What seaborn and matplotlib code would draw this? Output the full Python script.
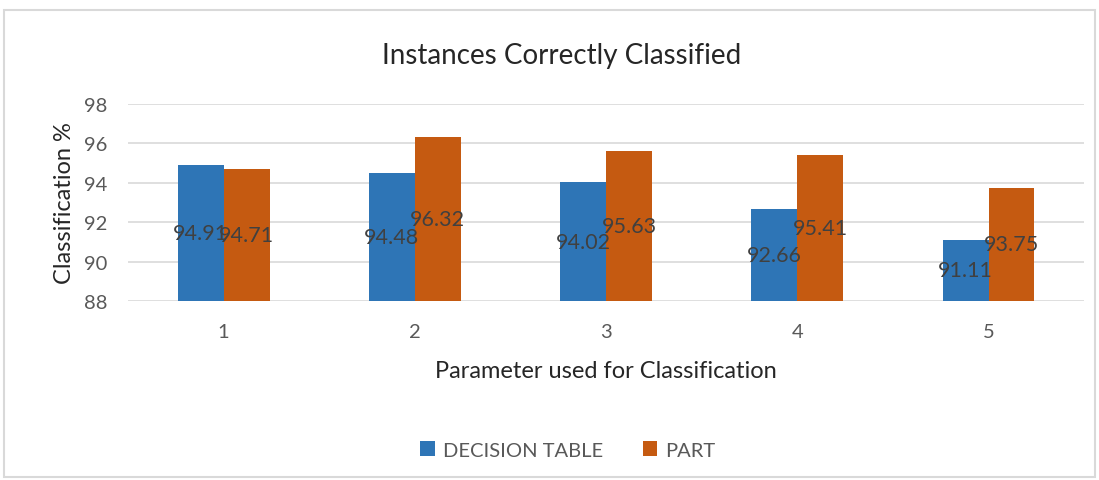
import pandas as pd
import seaborn as sns
import matplotlib.pyplot as plt
from matplotlib.patches import Rectangle

parameters = ["1", "2", "3", "4", "5"]
decision_table = [94.91, 94.48, 94.02, 92.66, 91.11]
part = [94.71, 96.32, 95.63, 95.41, 93.75]
series_names = ["DECISION TABLE", "PART"]
colors = ["#2E75B6", "#C55A11"]

df = pd.DataFrame({
    "Parameter": parameters * 2,
    "Value": decision_table + part,
    "Series": [series_names[0]] * 5 + [series_names[1]] * 5,
})

sns.set_theme(style="white")
plt.rcParams["font.family"] = ["Lato", "DejaVu Sans"]

fig = plt.figure(figsize=(10.99, 4.81), dpi=100)
ax = fig.add_axes([0.1165, 0.372, 0.87, 0.41])

sns.barplot(data=df, x="Parameter", y="Value", hue="Series", palette=colors,
            width=0.48, ax=ax, saturation=1, legend=True, linewidth=0)

# bars start from the axis floor, not zero
ax.set_ylim(88, 98)
for patch in ax.patches:
    h = patch.get_height()
    if h > 0:
        patch.set_y(88)
        patch.set_height(h - 88)

for cont in ax.containers:
    labels = [f"{v:.2f}" for v in cont.datavalues]
    ax.bar_label(cont, labels=labels, label_type="center", fontsize=15.5,
                 color="#404040")

ax.set_yticks(range(88, 99, 2))
ax.yaxis.grid(True, color="#D9D9D9", linewidth=1.2)
ax.set_axisbelow(True)
for s in ax.spines.values():
    s.set_visible(False)
ax.tick_params(axis="both", length=0, labelsize=14.5, colors="#595959")
ax.tick_params(axis="x", pad=16)
ax.tick_params(axis="y", pad=15)

fig.suptitle("Instances Correctly Classified", x=0.511, y=0.91, fontsize=20,
             color="#262626")
ax.set_xlabel("Parameter used for Classification", fontsize=17, color="#262626", labelpad=14)
ax.set_ylabel("Classification %", fontsize=17, color="#262626", labelpad=6)

ax.legend(loc="upper center", bbox_to_anchor=(0.46, -0.62), ncol=2, frameon=False,
          fontsize=14.5, labelcolor="#595959", handlelength=0.7, handleheight=0.7,
          columnspacing=2.0, handletextpad=0.4)

fig.patches.append(Rectangle((0.004, 0.006), 0.992, 0.972, transform=fig.transFigure,
                             fill=False, edgecolor="#D9D9D9", linewidth=1.5))

fig.savefig("out.png", dpi=100)
